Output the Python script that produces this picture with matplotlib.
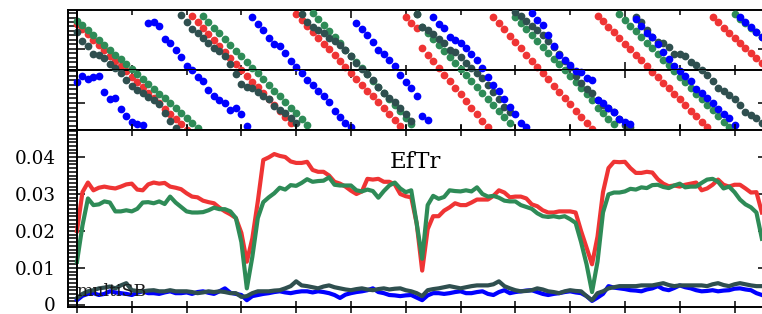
import matplotlib
matplotlib.use('Agg')
import matplotlib.pyplot as plt
import numpy as np
from matplotlib.ticker import MultipleLocator, NullFormatter, FixedLocator, NullLocator

plt.rcParams['font.family'] = ['DejaVu Serif']

# sample index (time)
n_samples = 126
sample = np.arange(n_samples)

# ---- top panels: wrapped phase (0..1) ----
phase_red = [
    0.883, 0.840, 0.796, 0.753, 0.708, 0.664, 0.620, 0.576, 0.532, 0.488,
    0.443, 0.399, 0.355, 0.312, 0.268, 0.223, 0.179, 0.135, 0.092, 0.048,
    0.003, 0.947, 0.897, 0.848, 0.799, 0.749, 0.700, 0.650, 0.602, 0.553,
    0.503, 0.453, 0.404, 0.355, 0.306, 0.256, 0.207, 0.158, 0.108, 0.058,
    0.964, 0.915, 0.866, 0.818, 0.769, 0.720, 0.671, 0.622, 0.573, 0.525,
    0.476, 0.427, 0.378, 0.329, 0.280, 0.231, 0.182, 0.133, 0.085, 0.036,
    0.942, 0.893, 0.846, 0.682, 0.627, 0.572, 0.517, 0.462, 0.407, 0.352,
    0.297, 0.242, 0.187, 0.133, 0.078, 0.023, 0.942, 0.889, 0.838, 0.786,
    0.734, 0.682, 0.629, 0.578, 0.526, 0.473, 0.422, 0.369, 0.318, 0.266,
    0.213, 0.161, 0.109, 0.058, 0.006, 0.953, 0.907, 0.860, 0.814, 0.768,
    0.720, 0.673, 0.627, 0.581, 0.534, 0.487, 0.441, 0.394, 0.348, 0.302,
    0.255, 0.208, 0.162, 0.116, 0.069, 0.023, 0.938, 0.896, 0.854, 0.812,
    0.769, 0.727, 0.684, 0.643, 0.600, 0.558]
phase_green = [
    0.911, 0.871, 0.830, 0.790, 0.749, 0.708, 0.668, 0.628, 0.588, 0.547,
    0.506, 0.466, 0.425, 0.385, 0.344, 0.303, 0.263, 0.223, 0.183, 0.142,
    0.101, 0.060, 0.020, 0.949, 0.901, 0.853, 0.805, 0.757, 0.710, 0.662,
    0.614, 0.567, 0.518, 0.472, 0.423, 0.376, 0.328, 0.280, 0.233, 0.186,
    0.138, 0.090, 0.042, 0.978, 0.926, 0.874, 0.823, 0.772, 0.721, 0.669,
    0.618, 0.566, 0.514, 0.463, 0.412, 0.360, 0.309, 0.258, 0.207, 0.155,
    0.103, 0.052, 0.966, 0.857, 0.807, 0.757, 0.707, 0.657, 0.608, 0.558,
    0.508, 0.458, 0.408, 0.358, 0.308, 0.258, 0.208, 0.158, 0.109, 0.059,
    0.944, 0.894, 0.844, 0.795, 0.745, 0.695, 0.645, 0.595, 0.547, 0.497,
    0.447, 0.397, 0.347, 0.298, 0.248, 0.187, 0.141, 0.095, 0.050, 0.963,
    0.915, 0.868, 0.821, 0.774, 0.727, 0.680, 0.633, 0.585, 0.539, 0.492,
    0.444, 0.398, 0.350, 0.304, 0.257, 0.209, 0.163, 0.115, 0.068, 0.022,
    0.965, 0.928, 0.889, 0.852, 0.814, 0.776]
phase_blue = [
    0.400, 0.450, 0.425, 0.442, 0.450, 0.317, 0.258, 0.267, 0.175, 0.117,
    0.067, 0.050, 0.042, 0.892, 0.900, 0.867, 0.758, 0.725, 0.667, 0.608,
    0.533, 0.500, 0.442, 0.408, 0.333, 0.283, 0.250, 0.225, 0.167, 0.183,
    0.133, 0.035, 0.942, 0.883, 0.833, 0.767, 0.717, 0.700, 0.642, 0.575,
    0.525, 0.475, 0.417, 0.375, 0.325, 0.283, 0.233, 0.158, 0.108, 0.058,
    0.025, 0.892, 0.842, 0.792, 0.733, 0.667, 0.633, 0.583, 0.533, 0.458,
    0.400, 0.350, 0.283, 0.117, 0.083, 0.942, 0.883, 0.850, 0.775, 0.750,
    0.725, 0.683, 0.633, 0.583, 0.517, 0.442, 0.375, 0.325, 0.258, 0.192,
    0.133, 0.058, 0.025, 0.975, 0.917, 0.875, 0.792, 0.700, 0.625, 0.583,
    0.542, 0.492, 0.483, 0.433, 0.417, 0.250, 0.225, 0.183, 0.150, 0.092,
    0.067, 0.050, 0.925, 0.867, 0.808, 0.775, 0.717, 0.650, 0.592, 0.533,
    0.492, 0.450, 0.408, 0.342, 0.308, 0.267, 0.225, 0.175, 0.133, 0.100,
    0.042, 0.942, 0.900, 0.858, 0.817, 0.775]
phase_gray = [
    0.817, 0.742, 0.700, 0.633, 0.625, 0.600, 0.550, 0.517, 0.475, 0.417,
    0.367, 0.333, 0.308, 0.275, 0.250, 0.217, 0.142, 0.075, 0.017, 0.958,
    0.900, 0.842, 0.808, 0.767, 0.725, 0.683, 0.658, 0.617, 0.550, 0.467,
    0.383, 0.358, 0.350, 0.317, 0.283, 0.258, 0.200, 0.167, 0.142, 0.100,
    0.058, 0.967, 0.900, 0.858, 0.833, 0.808, 0.767, 0.742, 0.708, 0.667,
    0.617, 0.558, 0.508, 0.467, 0.417, 0.358, 0.308, 0.267, 0.233, 0.183,
    0.133, 0.075, 0.967, 0.858, 0.833, 0.800, 0.758, 0.725, 0.667, 0.650,
    0.608, 0.558, 0.517, 0.475, 0.433, 0.375, 0.317, 0.258, 0.192, 0.150,
    0.985, 0.950, 0.908, 0.867, 0.833, 0.792, 0.742, 0.692, 0.633, 0.575,
    0.525, 0.450, 0.392, 0.342, 0.308, 0.250, 0.208, 0.183, 0.150, 0.092,
    0.042, 0.025, 0.942, 0.900, 0.833, 0.775, 0.733, 0.725, 0.692, 0.633,
    0.633, 0.617, 0.567, 0.542, 0.500, 0.458, 0.408, 0.350, 0.325, 0.292,
    0.258, 0.208, 0.150, 0.125, 0.100, 0.058]

# ---- bottom panel: EfTr values (in units of 1e-3) ----
eff_red = [
    20.0, 30.5, 33.1, 31.0, 31.7, 32.0, 31.7, 31.5, 32.0, 32.6,
    32.8, 31.2, 31.0, 32.6, 33.1, 32.8, 33.0, 32.0, 31.7, 31.3,
    30.2, 29.3, 29.1, 28.2, 27.8, 27.5, 26.3, 25.3, 24.5, 23.5,
    19.5, 11.7, 18.0, 28.0, 39.2, 39.9, 40.8, 40.3, 40.0, 38.8,
    38.4, 38.4, 38.7, 36.5, 36.0, 36.0, 35.0, 33.3, 32.8, 32.0,
    30.9, 30.0, 30.7, 34.1, 33.9, 34.1, 33.3, 33.3, 32.6, 30.0,
    29.4, 29.1, 22.0, 9.3, 20.5, 24.0, 24.0, 25.5, 26.4, 27.5,
    27.0, 27.0, 27.7, 28.5, 28.5, 28.5, 29.5, 31.0, 30.4, 29.1,
    29.3, 29.3, 28.8, 27.2, 26.7, 25.6, 25.0, 25.0, 25.3, 25.3,
    25.3, 25.0, 20.0, 15.5, 11.0, 18.5, 30.5, 37.0, 38.7, 38.6,
    38.7, 37.0, 35.7, 35.7, 36.0, 35.8, 34.0, 32.8, 32.1, 32.3,
    32.0, 32.5, 32.8, 33.1, 31.0, 31.5, 32.5, 33.9, 32.5, 32.0,
    32.5, 32.5, 31.5, 30.4, 30.5, 25.0]
eff_green = [
    11.7, 21.5, 28.8, 27.0, 27.2, 28.0, 27.7, 25.3, 25.3, 25.6,
    25.3, 26.0, 27.7, 27.8, 27.5, 28.0, 27.3, 29.3, 27.7, 26.5,
    25.3, 25.0, 25.0, 25.1, 25.6, 26.3, 25.9, 25.9, 25.3, 23.5,
    17.0, 4.5, 13.0, 23.5, 27.8, 29.1, 30.2, 31.7, 31.2, 32.4,
    32.2, 33.0, 34.0, 33.3, 33.5, 33.6, 34.5, 32.5, 32.3, 32.3,
    32.3, 31.0, 30.7, 31.2, 30.8, 29.0, 30.8, 32.3, 33.1, 31.5,
    30.5, 31.0, 22.0, 12.5, 27.0, 29.5, 28.7, 29.2, 31.0, 30.8,
    30.7, 31.0, 30.7, 31.8, 30.0, 29.3, 29.5, 29.0, 28.2, 28.0,
    28.0, 27.0, 26.5, 26.0, 24.8, 24.0, 23.8, 24.0, 23.7, 24.0,
    23.2, 22.2, 17.0, 11.0, 3.5, 11.7, 25.0, 29.9, 30.4, 30.4,
    30.7, 31.4, 31.2, 31.8, 31.6, 32.4, 32.5, 31.9, 31.6, 32.3,
    32.8, 31.8, 32.0, 32.0, 33.0, 33.9, 34.1, 33.3, 31.5, 32.0,
    30.5, 28.5, 27.2, 26.4, 25.0, 17.9]
eff_blue = [
    1.3, 2.5, 3.0, 3.2, 2.7, 3.0, 3.7, 3.4, 3.2, 3.0,
    2.7, 3.3, 3.7, 3.2, 3.2, 3.0, 3.4, 3.7, 3.2, 3.2,
    3.4, 3.0, 3.5, 3.7, 3.3, 3.0, 3.7, 4.5, 3.3, 3.0,
    2.7, 1.3, 2.4, 2.7, 3.0, 3.2, 3.5, 3.7, 3.4, 3.2,
    3.5, 3.7, 3.7, 3.4, 3.7, 3.5, 3.2, 2.7, 1.9, 2.8,
    3.2, 3.5, 3.7, 4.0, 4.5, 3.5, 3.2, 2.7, 2.6, 2.4,
    2.6, 2.7, 2.0, 1.3, 2.6, 3.2, 3.2, 3.0, 3.2, 3.5,
    3.7, 3.2, 3.2, 3.5, 3.7, 3.0, 2.7, 3.5, 4.0, 3.2,
    3.5, 3.7, 3.9, 4.0, 3.5, 3.0, 2.7, 3.0, 3.2, 3.5,
    3.7, 3.4, 3.2, 2.4, 1.1, 2.0, 3.0, 5.1, 4.7, 4.5,
    4.3, 4.0, 3.9, 3.7, 4.2, 4.5, 5.1, 4.3, 4.0, 4.6,
    5.3, 4.8, 4.5, 4.0, 3.7, 3.8, 4.0, 3.7, 3.9, 4.0,
    4.4, 4.5, 4.2, 4.0, 3.2, 2.7]
eff_gray = [
    1.9, 3.0, 3.7, 4.0, 4.5, 4.7, 5.0, 4.5, 5.3, 5.9,
    4.0, 3.8, 3.7, 3.9, 4.0, 3.7, 3.7, 4.0, 3.7, 3.7,
    3.7, 3.5, 3.2, 3.4, 3.7, 3.5, 3.7, 3.5, 3.2, 3.2,
    2.2, 2.4, 3.2, 3.7, 3.7, 3.7, 3.9, 4.0, 4.5, 5.1,
    6.4, 5.3, 5.1, 4.8, 4.5, 5.0, 5.3, 4.8, 4.5, 4.2,
    4.0, 4.3, 4.5, 4.2, 4.0, 4.3, 4.5, 4.2, 4.4, 4.5,
    4.0, 3.7, 3.2, 2.4, 4.0, 4.3, 4.5, 4.8, 5.1, 4.8,
    4.5, 4.8, 5.1, 5.3, 5.3, 5.3, 5.6, 6.4, 5.1, 4.5,
    4.0, 3.7, 3.8, 4.0, 4.5, 4.2, 3.7, 3.5, 3.2, 3.7,
    4.0, 3.8, 3.7, 2.4, 1.3, 3.2, 3.7, 4.5, 4.8, 5.1,
    5.1, 5.1, 5.1, 5.3, 5.3, 5.3, 5.6, 5.9, 5.4, 5.1,
    5.3, 5.3, 5.3, 5.3, 5.3, 5.1, 5.6, 5.9, 5.4, 5.1,
    5.6, 5.9, 5.6, 5.3, 5.1, 5.1]

C_RED = '#ef3434'
C_GREEN = '#2e8b57'
C_BLUE = '#0000ff'
C_GRAY = '#2f4f4f'
DOT = 31

fig = plt.figure(figsize=(7.62, 3.14), dpi=100)
L = 68 / 762
W = (763 - 68) / 762
ax1 = fig.add_axes([L, (314 - 70) / 314, W, 60 / 314])
ax2 = fig.add_axes([L, (314 - 130) / 314, W, 60 / 314], sharex=ax1)
ax3 = fig.add_axes([L, (314 - 307) / 314, W, 177 / 314], sharex=ax1)

for ax in (ax1, ax2, ax3):
    for sp in ax.spines.values():
        sp.set_linewidth(1.4)
    ax.axvline(0, color='k', lw=1.4, zorder=5)
    ax.xaxis.set_major_locator(MultipleLocator(50))
    ax.xaxis.set_minor_locator(MultipleLocator(10))
    ax.xaxis.set_major_formatter(NullFormatter())

ax1.set_xlim(-1.64, 125.2)

# top scatter panels
for ax, lim in ((ax1, (0.5, 1.0)), (ax2, (0.0, 0.5))):
    ax.scatter(sample, phase_red, s=DOT, color=C_RED, linewidths=0, zorder=2)
    ax.scatter(sample, phase_green, s=DOT, color=C_GREEN, linewidths=0, zorder=3)
    ax.scatter(sample, phase_gray, s=DOT, color=C_GRAY, linewidths=0, zorder=3)
    ax.scatter(sample, phase_blue, s=DOT, color=C_BLUE, linewidths=0, zorder=4)
    ax.set_ylim(*lim)
    ax.yaxis.set_major_locator(FixedLocator([0.225, 0.675]))
    ax.yaxis.set_minor_locator(MultipleLocator(0.0375))
    ax.yaxis.set_major_formatter(NullFormatter())
    ax.tick_params(axis='x', which='both', direction='in', top=True, bottom=True,
                   width=1.1)
    ax.tick_params(axis='x', which='major', length=5.8)
    ax.tick_params(axis='x', which='minor', length=3.6)
    ax.tick_params(axis='y', which='both', direction='in', left=True, right=False,
                   width=1.1)
    ax.tick_params(axis='y', which='major', length=12)
    ax.tick_params(axis='y', which='minor', length=6.5)
    sec = ax.secondary_yaxis('right')
    sec.yaxis.set_major_locator(FixedLocator([0.225, 0.675]))
    sec.yaxis.set_minor_locator(NullLocator())
    sec.yaxis.set_major_formatter(NullFormatter())
    sec.tick_params(direction='in', length=3.6, width=1.1)
    sec.spines['right'].set_linewidth(1.4)

# bottom line panel
scale = 1e-3
ax3.plot(sample, np.array(eff_red) * scale, color=C_RED, lw=3.0, zorder=2)
ax3.plot(sample, np.array(eff_green) * scale, color=C_GREEN, lw=3.0, zorder=3)
ax3.plot(sample, np.array(eff_blue) * scale, color=C_BLUE, lw=3.0, zorder=3)
ax3.plot(sample, np.array(eff_gray) * scale, color=C_GRAY, lw=3.0, zorder=4)
ax3.set_ylim(-0.00054, 0.0473)
ax3.yaxis.set_major_locator(MultipleLocator(0.01))
ax3.yaxis.set_minor_locator(MultipleLocator(0.001))
# the zero label is drawn separately (nudged up slightly so it stays inside)
ax3.yaxis.set_major_formatter(matplotlib.ticker.FuncFormatter(
    lambda v, p: '' if abs(v) < 1e-12 else f'{v:.2f}'))
ax3.tick_params(axis='y', which='both', direction='in', left=True, right=False,
                width=1.1, labelsize=13.2, pad=9)
ax3.tick_params(axis='y', which='major', length=12)
ax3.tick_params(axis='y', which='minor', length=6.5)
ax3.tick_params(axis='x', which='both', direction='inout', top=True, bottom=True,
                width=1.1)
ax3.tick_params(axis='x', which='major', length=9)
ax3.tick_params(axis='x', which='minor', length=8)
ax3.annotate('0', xy=(0, 0), xycoords=('axes fraction', 'data'),
             xytext=(-9, -4.5), textcoords='offset points', ha='right',
             va='baseline', fontsize=13.2, annotation_clip=False)
sec3 = ax3.secondary_yaxis('right')
sec3.yaxis.set_major_locator(FixedLocator([0.01, 0.02, 0.03, 0.04]))
sec3.yaxis.set_minor_locator(NullLocator())
sec3.yaxis.set_major_formatter(NullFormatter())
sec3.tick_params(direction='in', length=3.6, width=1.1)
sec3.spines['right'].set_linewidth(1.4)

ax3.text(0.5, 0.785, 'EfTr', transform=ax3.transAxes, ha='center',
         va='baseline', fontsize=16.5, zorder=6)
ax3.text(0.0115, 0.062, 'multiSB', transform=ax3.transAxes, ha='left',
         va='baseline', fontsize=12.5, color='#1a1a1a', zorder=5)

fig.savefig('out.png', dpi=100)
